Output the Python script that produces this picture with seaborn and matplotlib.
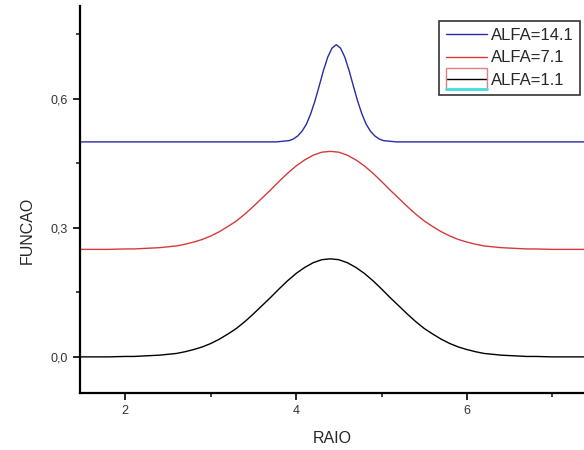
"""
Curvas FUNCAO x RAIO para tres valores de ALFA
"""

import pandas as pd
import seaborn as sns
import matplotlib.pyplot as plt
from matplotlib.patches import Rectangle
from matplotlib.lines import Line2D
from matplotlib.ticker import FixedLocator, FuncFormatter

# valores
raio_largo = [1.47, 1.8, 2.0, 2.1, 2.2, 2.3, 2.4, 2.5, 2.6, 2.7, 2.8, 2.9,
              3.0, 3.1, 3.2, 3.3, 3.4, 3.5, 3.6, 3.7, 3.8, 3.9, 4.0, 4.1,
              4.2, 4.3, 4.4, 4.5, 4.6, 4.7, 4.8, 4.9, 5.0, 5.1, 5.2, 5.3,
              5.4, 5.5, 5.6, 5.7, 5.8, 5.9, 6.0, 6.1, 6.2, 6.3, 6.4, 6.5,
              6.6, 6.7, 6.8, 7.0, 7.37]

funcao_alfa_1 = [0.000, 0.000, 0.001, 0.001, 0.002, 0.003, 0.004, 0.006, 0.008,
                 0.012, 0.017, 0.023, 0.031, 0.041, 0.053, 0.066, 0.082, 0.100,
                 0.119, 0.138, 0.158, 0.177, 0.194, 0.208, 0.219, 0.226, 0.228,
                 0.226, 0.219, 0.208, 0.194, 0.177, 0.158, 0.138, 0.119, 0.100,
                 0.082, 0.066, 0.053, 0.041, 0.031, 0.023, 0.017, 0.012, 0.008,
                 0.006, 0.004, 0.003, 0.002, 0.001, 0.001, 0.000, 0.000]

funcao_alfa_7 = [0.250, 0.250, 0.251, 0.251, 0.252, 0.253, 0.254, 0.256, 0.258,
                 0.262, 0.267, 0.273, 0.281, 0.291, 0.303, 0.316, 0.332, 0.350,
                 0.369, 0.388, 0.408, 0.427, 0.444, 0.458, 0.469, 0.476, 0.478,
                 0.476, 0.469, 0.458, 0.444, 0.427, 0.408, 0.388, 0.369, 0.350,
                 0.332, 0.316, 0.303, 0.291, 0.281, 0.273, 0.267, 0.262, 0.258,
                 0.256, 0.254, 0.253, 0.252, 0.251, 0.251, 0.250, 0.250]

raio_estreito = [1.47, 3.5, 3.77, 3.87, 3.92, 3.97, 4.02, 4.07, 4.12, 4.17,
                 4.22, 4.27, 4.32, 4.37, 4.42, 4.47, 4.52, 4.57, 4.62, 4.67,
                 4.72, 4.77, 4.82, 4.87, 4.92, 4.97, 5.02, 5.07, 5.17, 5.5, 7.37]

funcao_alfa_14 = [0.500, 0.500, 0.500, 0.502, 0.503, 0.507, 0.514, 0.525, 0.541,
                  0.565, 0.595, 0.630, 0.666, 0.697, 0.718, 0.726, 0.718, 0.697,
                  0.666, 0.630, 0.595, 0.565, 0.541, 0.525, 0.514, 0.507, 0.503,
                  0.502, 0.500, 0.500, 0.500]

rotulos = ['ALFA=14.1', 'ALFA=7.1', 'ALFA=1.1']
cores = ['#2a2aa6', '#d43a3a', '#000000']

df = pd.concat([
    pd.DataFrame({'RAIO': raio_estreito, 'FUNCAO': funcao_alfa_14, 'serie': rotulos[0]}),
    pd.DataFrame({'RAIO': raio_largo, 'FUNCAO': funcao_alfa_7, 'serie': rotulos[1]}),
    pd.DataFrame({'RAIO': raio_largo, 'FUNCAO': funcao_alfa_1, 'serie': rotulos[2]}),
])

sns.set_style('ticks')
plt.rcParams['font.family'] = ['Liberation Sans', 'DejaVu Sans']

fig = plt.figure(figsize=(5.84, 4.5), dpi=100)
ax = fig.add_axes([80 / 584, 1 - 393 / 450, 1 - 80 / 584, 387 / 450])

sns.lineplot(data=df, x='RAIO', y='FUNCAO', hue='serie', hue_order=rotulos,
             palette=cores, estimator=None, sort=False, linewidth=1.0, ax=ax)

ax.set_xlim(1.47, 7.37)
ax.set_ylim(-0.084, 0.816)

ax.xaxis.set_major_locator(FixedLocator([2, 4, 6]))
ax.xaxis.set_minor_locator(FixedLocator([3, 5, 7]))
ax.yaxis.set_major_locator(FixedLocator([0.0, 0.3, 0.6]))
ax.yaxis.set_minor_locator(FixedLocator([0.15, 0.45, 0.75]))
ax.yaxis.set_major_formatter(FuncFormatter(lambda v, p: f'{v:.1f}'.replace('.', ',')))
ax.xaxis.set_major_formatter(FuncFormatter(lambda v, p: f'{v:.0f}'))

ax.tick_params(which='major', length=5, width=1.2, labelsize=9, colors='black',
               labelcolor='#333333', pad=4)
ax.tick_params(which='minor', length=3, width=1.2)

for lado in ['top', 'right']:
    ax.spines[lado].set_visible(False)
for lado in ['left', 'bottom']:
    ax.spines[lado].set_linewidth(1.6)
    ax.spines[lado].set_color('black')

ax.set_xlabel('RAIO', fontsize=11.5)
ax.set_ylabel('FUNCAO', fontsize=11.5)
ax.xaxis.set_label_coords(0.5, -0.098)
ax.yaxis.set_label_coords(-0.089, 0.419)

leg = ax.legend(loc='upper left', bbox_to_anchor=((439 - 80) / 504, (393 - 21) / 387),
                frameon=True, fancybox=False, fontsize=12, handlelength=2.45,
                handletextpad=0.25, labelspacing=0.46, borderpad=0.4,
                borderaxespad=0)
leg.get_frame().set_edgecolor('black')
leg.get_frame().set_linewidth(1.2)
for h in leg.get_lines():
    h.set_linewidth(1.0)

# marca de selecao em volta do ultimo item da legenda (como no original)
fig.canvas.draw()
bb = leg.get_lines()[2].get_window_extent()
W, H = fig.bbox.width, fig.bbox.height
fig.add_artist(Rectangle((bb.x0 / W, (bb.y0 - 10) / H), (bb.x1 - bb.x0) / W, 21 / H,
                         transform=fig.transFigure, fill=False,
                         edgecolor='#e08080', linewidth=1.0))
fig.add_artist(Line2D([bb.x0 / W, bb.x1 / W], [(bb.y0 - 10) / H] * 2,
                      transform=fig.transFigure, color='#40e0e0', linewidth=2.0))

fig.savefig('out.png', dpi=100)
